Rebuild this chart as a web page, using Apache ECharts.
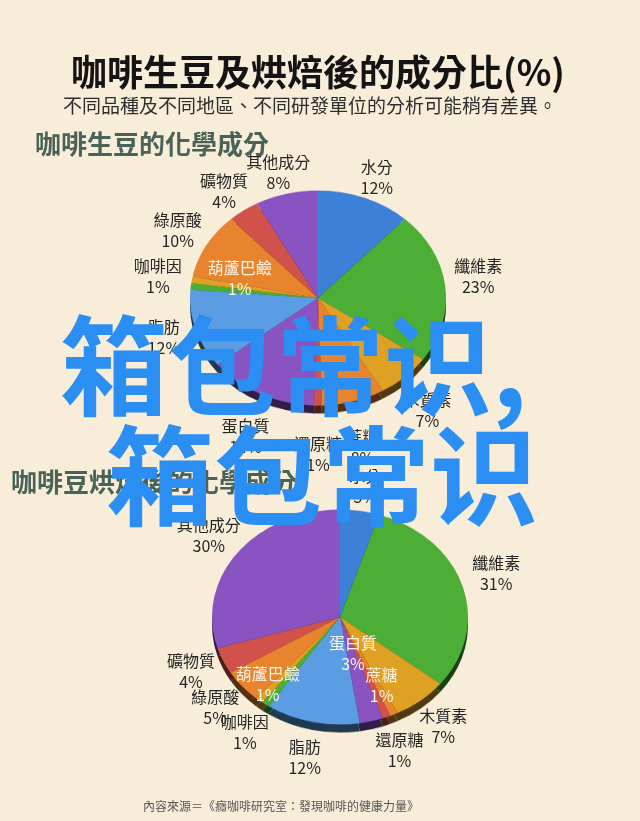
<!DOCTYPE html>
<html><head><meta charset="utf-8">
<script src="https://cdn.jsdelivr.net/npm/echarts@6/dist/echarts.min.js"></script>
<style>
html,body{margin:0;padding:0;background:#f7edd9;width:640px;height:821px;overflow:hidden}
#pies{position:absolute;left:0;top:0;width:640px;height:978px;transform:scaleY(0.84);transform-origin:0 0}
#main{position:absolute;left:0;top:0;width:640px;height:821px}
</style></head><body>
<div id="pies"></div><div id="main"></div>
<script>
// ---- data ----
const categories = ['水分','纖維素','木質素','蔗糖','還原糖','蛋白質','脂肪','咖啡因','葫蘆巴鹼','綠原酸','礦物質','其他成分'];
const greenBeanValues = [12, 23, 7, 8, 1, 14, 12, 1, 1, 10, 4, 8];
const roastedValues   = [5, 31, 7, 1, 1, 3, 12, 1, 1, 5, 4, 30];
const sliceColors = ['#3d80d8','#4cae34','#dfa124','#e8842e','#d0524a','#8953c1','#5a9de2','#4cae34','#dfa124','#e8842e','#d0524a','#8953c1'];
const titleText = '咖啡生豆及烘焙後的成分比(%)';
const subtitleText = '不同品種及不同地區、不同研發單位的分析可能稍有差異。';
const heading1 = '咖啡生豆的化學成分';
const heading2 = '咖啡豆烘焙後的化學成分';
const sourceText = '內容來源＝《癮咖啡研究室：發現咖啡的健康力量》';
const watermark1 = '箱包常识,';
const watermark2 = '箱包常识';

// ---- layout config ----
const K = 0.84, R = 128, DEPTH = 8;
const pieCenters = [[318, 298], [340, 617]];
const pieValues = [greenBeanValues, roastedValues];
// label placement (ellipse around each pie)
const labelCfg = [
  {cx: 318, cy: 290, ax: 152, ayTop: 114, ayBot: 155, inner: {'葫蘆巴鹼': 75}},
  {cx: 340, cy: 610, ax: 154, ayTop: 118, ayBot: 142, inner: {'蛋白質': 50, '蔗糖': 93, '葫蘆巴鹼': 108}}
];
const TC = '"Noto Sans CJK TC", "Noto Sans CJK SC", sans-serif';

function darken(hex, f) {
  const n = parseInt(hex.slice(1), 16);
  const r = Math.round(((n >> 16) & 255) * f), g = Math.round(((n >> 8) & 255) * f), b = Math.round((n & 255) * f);
  return 'rgb(' + r + ',' + g + ',' + b + ')';
}

// ---- pies (ellipse via CSS scaleY) ----
const pieChart = echarts.init(document.getElementById('pies'), null, {renderer: 'canvas'});
function items(vals, dark) {
  return categories.map((n, i) => ({
    name: n, value: vals[i],
    itemStyle: {color: dark ? darken(sliceColors[i], 0.36) : sliceColors[i]}
  }));
}
const pieSeries = [];
pieValues.forEach((vals, p) => {
  const [cx, cy] = pieCenters[p];
  pieSeries.push({type: 'pie', silent: true, radius: R, center: [cx, (cy + DEPTH) / K], startAngle: 90,
    data: items(vals, true), label: {show: false}, labelLine: {show: false}, z: 1});
  pieSeries.push({type: 'pie', silent: true, radius: R, center: [cx, cy / K], startAngle: 90,
    data: items(vals, false), label: {show: false}, labelLine: {show: false}, z: 2});
});
pieChart.setOption({animation: false, backgroundColor: 'transparent', series: pieSeries});

// ---- labels, titles, watermark ----
const main = echarts.init(document.getElementById('main'), null, {renderer: 'canvas'});
const labelSeries = pieValues.map((vals, p) => {
  const c = labelCfg[p];
  return {
    type: 'pie', silent: true, radius: [0, 100], center: [c.cx, c.cy], startAngle: 90,
    avoidLabelOverlap: false,
    itemStyle: {color: 'rgba(0,0,0,0)'},
    label: {show: true, position: 'inside', formatter: '{b}\n{c}%', fontSize: 16, lineHeight: 21,
      color: '#262626', fontFamily: TC, textBorderWidth: 0, textShadowBlur: 0},
    labelLine: {show: false},
    data: categories.map((n, i) => {
      const d = {name: n, value: vals[i]};
      if (c.inner[n] != null) d.label = {color: '#fcf4e8'};
      return d;
    }),
    labelLayout: function (params) {
      const r = params.labelRect;
      const lx = r.x + r.width / 2, ly = r.y + r.height / 2;
      const ux = (lx - c.cx) / 50, uy = (ly - c.cy) / 50;
      const dIn = c.inner[categories[params.dataIndex]];
      let x, y;
      if (dIn != null) { x = c.cx + dIn * ux; y = c.cy + dIn * uy * K; }
      else { x = c.cx + c.ax * ux; y = c.cy + (uy < 0 ? c.ayTop : c.ayBot) * uy; }
      return {x: x, y: y, align: 'center', verticalAlign: 'middle'};
    }
  };
});

function txt(x, y, text, font, fill, align, z) {
  return {type: 'text', x: x, y: y, z: z || 10, silent: true,
    style: {text: text, font: font, fill: fill, align: align, textAlign: align,
      verticalAlign: 'middle', textVerticalAlign: 'middle'}};
}

main.setOption({
  animation: false,
  backgroundColor: 'transparent',
  series: labelSeries,
  graphic: [
    txt(318, 72, titleText, 'bold 36px ' + TC, '#141414', 'center'),
    txt(310, 106, subtitleText, '19px ' + TC, '#2e2e2e', 'center'),
    txt(35, 144, heading1, 'bold 26px ' + TC, '#4a6358', 'left'),
    txt(11, 482, heading2, 'bold 26px ' + TC, '#4a6358', 'left'),
    txt(281, 806, sourceText, '12px ' + TC, '#555555', 'center'),
    txt(60, 366, watermark1, 'bold 108px "Noto Sans CJK SC", sans-serif', '#2b8ef2', 'left', 100),
    txt(106, 476, watermark2, 'bold 108px "Noto Sans CJK SC", sans-serif', '#2b8ef2', 'left', 100)
  ]
});
</script>
</body></html>
